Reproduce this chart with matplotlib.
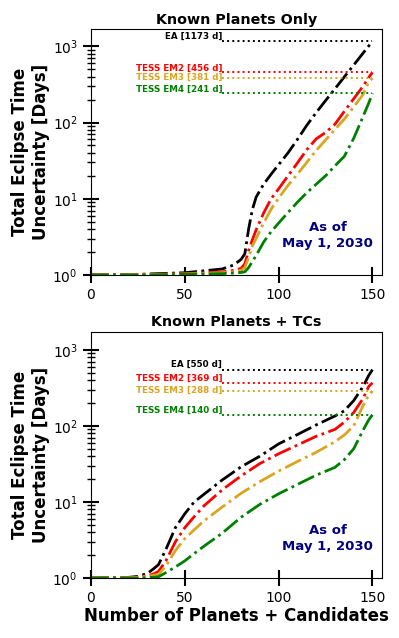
import matplotlib
matplotlib.use('Agg')
import matplotlib.pyplot as plt

# ---- data ----
x_top = [0, 25, 50, 70, 76, 80, 82, 84, 86, 88, 92, 96, 100, 105, 110, 115,
         120, 125, 130, 135, 140, 145, 148, 150]
ea_top = [1.0, 1.02, 1.07, 1.2, 1.35, 1.6, 1.9, 4.0, 7.2, 10.5, 15.5, 21, 28,
          40, 60, 92, 135, 194, 277, 397, 568, 814, 1010, 1173]
em2_top = [1.0, 1.01, 1.04, 1.1, 1.15, 1.22, 1.4, 2.1, 2.9, 3.9, 6.5, 10, 13.5,
           20, 29.5, 44, 61, 74, 95, 140, 205, 300, 390, 456]
em3_top = [1.0, 1.01, 1.03, 1.07, 1.1, 1.15, 1.25, 1.7, 2.4, 3.0, 4.8, 7.3,
           10.2, 15, 21, 30, 43, 59, 81, 111, 160, 234, 340, 381]
em4_top = [1.0, 1.0, 1.02, 1.04, 1.06, 1.08, 1.1, 1.25, 1.5, 1.8, 2.7, 3.7,
           4.8, 6.6, 9, 12, 15.5, 20, 27, 36, 62, 120, 180, 241]

x_bot = [0, 20, 25, 30, 33, 36, 40, 45, 50, 55, 60, 70, 80, 90, 100, 110,
         120, 130, 135, 140, 145, 148, 150]
ea_bot = [1.0, 1.02, 1.05, 1.15, 1.3, 1.5, 2.4, 4.6, 7.0, 10, 12.5, 19.5, 29,
          40, 58, 77, 103, 135, 158, 215, 330, 460, 550]
em2_bot = [1.0, 1.01, 1.03, 1.08, 1.12, 1.22, 1.7, 3.0, 4.6, 6.4, 8.8, 14.5,
           22, 32, 43, 56, 73, 90, 112, 150, 230, 330, 369]
em3_bot = [1.0, 1.01, 1.02, 1.05, 1.08, 1.12, 1.45, 2.3, 3.3, 4.3, 5.6, 8.6,
           13, 18.5, 25.5, 34, 45, 62, 76, 100, 185, 255, 288]
em4_bot = [1.0, 1.0, 1.0, 1.01, 1.02, 1.04, 1.18, 1.4, 1.68, 2.1, 2.6, 3.9,
           6.3, 9.3, 12.8, 17, 22.5, 28.5, 36, 50, 88, 120, 140]

names = ['EA', 'TESS EM2', 'TESS EM3', 'TESS EM4']
colors = ['black', 'red', 'goldenrod', 'green']
final_top = [1173, 456, 381, 241]
final_bot = [550, 369, 288, 140]

fig = plt.figure(figsize=(3.99, 6.38), dpi=100)
ax1 = fig.add_axes([0.228, 0.569, 0.729, 0.385])
ax2 = fig.add_axes([0.228, 0.094, 0.729, 0.386])

# vertical nudge (points) of each label above its dotted line
label_dy = [3.6, 2.9, 0.7, 2.9]


def draw_panel(ax, x, series, finals, title, ytop):
    for y, c, n, f, dy in zip(series, colors, names, finals, label_dy):
        ax.plot(x, y, color=c, linestyle='-.', linewidth=2)
        ax.plot([70, 150], [f, f], color=c, linestyle=':', linewidth=1.4)
        ax.annotate('%s [%d d]' % (n, f), xy=(70, f), xytext=(0, dy),
                    textcoords='offset points', color=c, fontsize=6.3,
                    fontweight='bold', ha='right', va='center')
    ax.set_yscale('log')
    ax.set_xlim(0, 155)
    ax.set_ylim(1, ytop)
    ax.set_xticks([0, 50, 100, 150])
    ax.set_title(title, fontsize=10.3, fontweight='bold', pad=4)
    ax.set_ylabel('Total Eclipse Time\nUncertainty [Days]', fontsize=12,
                  fontweight='bold', labelpad=2)
    ax.tick_params(which='major', direction='inout', length=12, width=1.5,
                   labelsize=10)
    ax.tick_params(which='minor', direction='inout', length=6, width=1)
    ax.text(0.814, 0.16, 'As of\nMay 1, 2030', transform=ax.transAxes,
            color='navy', fontsize=9.5, fontweight='bold', ha='center',
            va='center', linespacing=1.3)


draw_panel(ax1, x_top, [ea_top, em2_top, em3_top, em4_top], final_top,
           'Known Planets Only', 1670)
draw_panel(ax2, x_bot, [ea_bot, em2_bot, em3_bot, em4_bot], final_bot,
           'Known Planets + TCs', 1730)
ax2.set_xlabel('Number of Planets + Candidates', fontsize=12, fontweight='bold',
               labelpad=1)

fig.savefig('out.png', dpi=100)
